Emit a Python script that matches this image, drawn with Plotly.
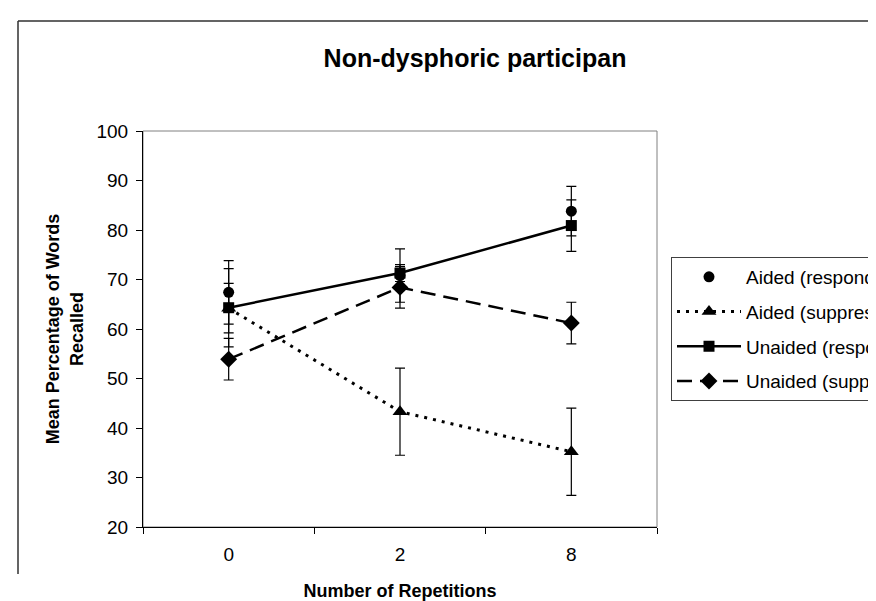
import plotly.graph_objects as go

# ---- data ----
repetitions = ["0", "2", "8"]
aided_respond = [67.4, 70.8, 83.8]
aided_respond_err = [6.4, 5.4, 5.0]
aided_suppress = [64.2, 43.3, 35.2]
aided_suppress_err = [5.0, 8.8, 8.8]
unaided_respond = [64.3, 71.3, 80.9]
unaided_respond_err = [7.9, 1.7, 5.2]
unaided_suppress = [53.9, 68.4, 61.2]
unaided_suppress_err = [4.2, 4.2, 4.2]

series_names = ["Aided (respond)", "Aided (suppress)", "Unaided (respond)", "Unaided (suppress)"]

W, H = 876, 601
L, R, T, B = 135, 649, 123, 519
pw, ph = R - L, B - T

def px2x(px):
    return (px - L) / pw

def px2y(py):
    return (B - py) / ph

fig = go.Figure()

def err(v):
    return dict(type="data", array=v, visible=True, color="black", thickness=1.2, width=5)

fig.add_trace(go.Scatter(
    x=repetitions, y=aided_respond, name=series_names[0], mode="markers",
    marker=dict(symbol="circle", size=11, color="black"),
    error_y=err(aided_respond_err), legendgroup="a"))
fig.add_trace(go.Scatter(
    x=repetitions, y=aided_suppress, name=series_names[1], mode="lines+markers",
    line=dict(color="black", width=3, dash="3px,6px"),
    marker=dict(symbol="triangle-up", size=13, color="black"),
    error_y=err(aided_suppress_err), legendgroup="b"))
fig.add_trace(go.Scatter(
    x=repetitions, y=unaided_respond, name=series_names[2], mode="lines+markers",
    line=dict(color="black", width=2.5),
    marker=dict(symbol="square", size=11, color="black"),
    error_y=err(unaided_respond_err), legendgroup="c"))
fig.add_trace(go.Scatter(
    x=repetitions, y=unaided_suppress, name=series_names[3], mode="lines+markers",
    line=dict(color="black", width=2.5, dash="15px,8px"),
    marker=dict(symbol="diamond", size=13, color="black"),
    error_y=err(unaided_suppress_err), legendgroup="d"))

fig.update_layout(
    width=W, height=H,
    margin=dict(l=L, r=W - R, t=T, b=H - B, autoexpand=False),
    plot_bgcolor="white", paper_bgcolor="white",
    font=dict(family="Liberation Sans, Arial, sans-serif", color="black", size=19),
    title=dict(text="<b>Non-dysphoric participan</b>", x=467 / W, xanchor="center",
               y=1 - 50 / H, yanchor="middle", font=dict(size=25)),
    showlegend=True,
    legend=dict(x=px2x(663), y=px2y(249), xanchor="left", yanchor="top",
                bordercolor="#404040", borderwidth=1, bgcolor="white",
                font=dict(size=19), itemwidth=64, tracegroupgap=7,
                traceorder="grouped"),
    xaxis=dict(type="category", range=[-0.5, 2.5], showline=True, linecolor="black",
               linewidth=1, ticks="outside", ticklen=6, tickcolor="black",
               tickson="boundaries", showgrid=False, zeroline=False,
               tickfont=dict(size=19), ticklabelstandoff=10,
               title=dict(text="<b>Number of Repetitions</b>", font=dict(size=18), standoff=20)),
    yaxis=dict(range=[20, 100], dtick=10, showline=True, linecolor="black", linewidth=1,
               ticks="outside", ticklen=6, tickcolor="black", showgrid=False,
               zeroline=False, tickfont=dict(size=19), ticklabelstandoff=4,
               title=dict(text="<b>Mean Percentage of Words<br>Recalled</b>",
                          font=dict(size=18), standoff=8)),
    shapes=[
        dict(type="rect", xref="paper", yref="paper", x0=0, x1=1, y0=0, y1=1,
             line=dict(color="#808080", width=1), layer="below"),
        dict(type="line", xref="paper", yref="paper", x0=px2x(10), x1=px2x(880),
             y0=px2y(13), y1=px2y(13), line=dict(color="#303030", width=1.5)),
        dict(type="line", xref="paper", yref="paper", x0=px2x(10), x1=px2x(10),
             y0=px2y(13), y1=px2y(566), line=dict(color="#303030", width=1.5)),
    ],
)

fig.write_html("out.html")
